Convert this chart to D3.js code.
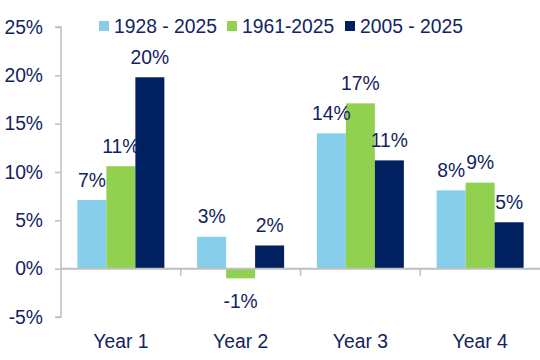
<!DOCTYPE html>
<html><head><meta charset="utf-8">
<script src="https://cdn.jsdelivr.net/npm/d3@7"></script>
<style>body{margin:0;background:#fff}svg{display:block}</style>
</head><body>
<svg id="c" width="540" height="360"></svg>
<script>
const categories = ["Year 1", "Year 2", "Year 3", "Year 4"];
const seriesNames = ["1928 - 2025", "1961-2025", "2005 - 2025"];
const s1928 = [7.1, 3.3, 14.0, 8.1];
const s1961 = [10.6, -1.0, 17.1, 8.9];
const s2005 = [19.8, 2.4, 11.2, 4.8];
const labels1928 = ["7%", "3%", "14%", "8%"];
const labels1961 = ["11%", "-1%", "17%", "9%"];
const labels2005 = ["20%", "2%", "11%", "5%"];
const yTicks = [-5, 0, 5, 10, 15, 20, 25];
const colors = ["#87ceeb", "#92d050", "#002060"];
const textColor = "#0f2460";
const axisColor = "#bfbfbf";
const font = "Liberation Sans, Arial, sans-serif";
const fs = 19.3;

const series = [s1928, s1961, s2005];
const labs = [labels1928, labels1961, labels2005];

const svg = d3.select("#c");
const x0 = 61, x1 = 540;
const y = d3.scaleLinear().domain([-5, 25]).range([317, 27]);
const xb = d3.scaleBand().domain(categories).range([x0, x1]).paddingInner(0).paddingOuter(0);
const xs = d3.scaleBand().domain(d3.range(3)).range([0, xb.bandwidth()]).paddingOuter(0.565).paddingInner(0);

// bars
series.forEach((vals, si) => {
  svg.append("g").selectAll("rect").data(vals).join("rect")
    .attr("x", (d, i) => xb(categories[i]) + xs(si))
    .attr("width", xs.bandwidth())
    .attr("y", d => y(Math.max(0, d)))
    .attr("height", d => Math.abs(y(d) - y(0)))
    .attr("fill", colors[si]);
});

// y axis
const ya = svg.append("g").attr("transform", `translate(${x0},0)`)
  .call(d3.axisLeft(y).tickValues(yTicks).tickSize(6).tickPadding(12).tickFormat(d => d + "%"));
ya.select(".domain").attr("stroke", axisColor).attr("stroke-width", 1.5).attr("d", `M-6,${y(25)}H0V${y(-5)}H-6`);
ya.selectAll(".tick line").attr("stroke", axisColor).attr("stroke-width", 1.5);
ya.selectAll(".tick text").attr("fill", textColor).attr("font-family", font).attr("font-size", fs);

// x axis at zero
const xa = svg.append("g").attr("transform", `translate(0,${y(0)})`);
xa.append("line").attr("x1", x0).attr("x2", x1).attr("stroke", axisColor).attr("stroke-width", 2);
xa.selectAll("line.t").data(categories.slice(1)).join("line").attr("class", "t")
  .attr("x1", d => xb(d)).attr("x2", d => xb(d)).attr("y1", 0).attr("y2", 7)
  .attr("stroke", axisColor).attr("stroke-width", 1.5);

// category labels
svg.append("g").selectAll("text").data(categories).join("text")
  .attr("x", d => xb(d) + xb.bandwidth() / 2).attr("y", 348)
  .attr("text-anchor", "middle").attr("fill", textColor)
  .attr("font-family", font).attr("font-size", fs).text(d => d);

// data labels
series.forEach((vals, si) => {
  svg.append("g").selectAll("text").data(vals).join("text")
    .attr("x", (d, i) => xb(categories[i]) + xs(si) + xs.bandwidth() / 2)
    .attr("y", d => d >= 0 ? y(d) - 13.5 : y(d) + 30)
    .attr("text-anchor", "middle").attr("fill", textColor)
    .attr("font-family", font).attr("font-size", fs)
    .text((d, i) => labs[si][i]);
});

// legend
const legX = [99, 227, 345];
const lg = svg.append("g");
seriesNames.forEach((n, i) => {
  lg.append("rect").attr("x", legX[i]).attr("y", 21).attr("width", 10).attr("height", 10).attr("fill", colors[i]);
  lg.append("text").attr("x", legX[i] + 15).attr("y", 32.5).attr("fill", textColor)
    .attr("font-family", font).attr("font-size", fs).text(n);
});
</script>
</body></html>
